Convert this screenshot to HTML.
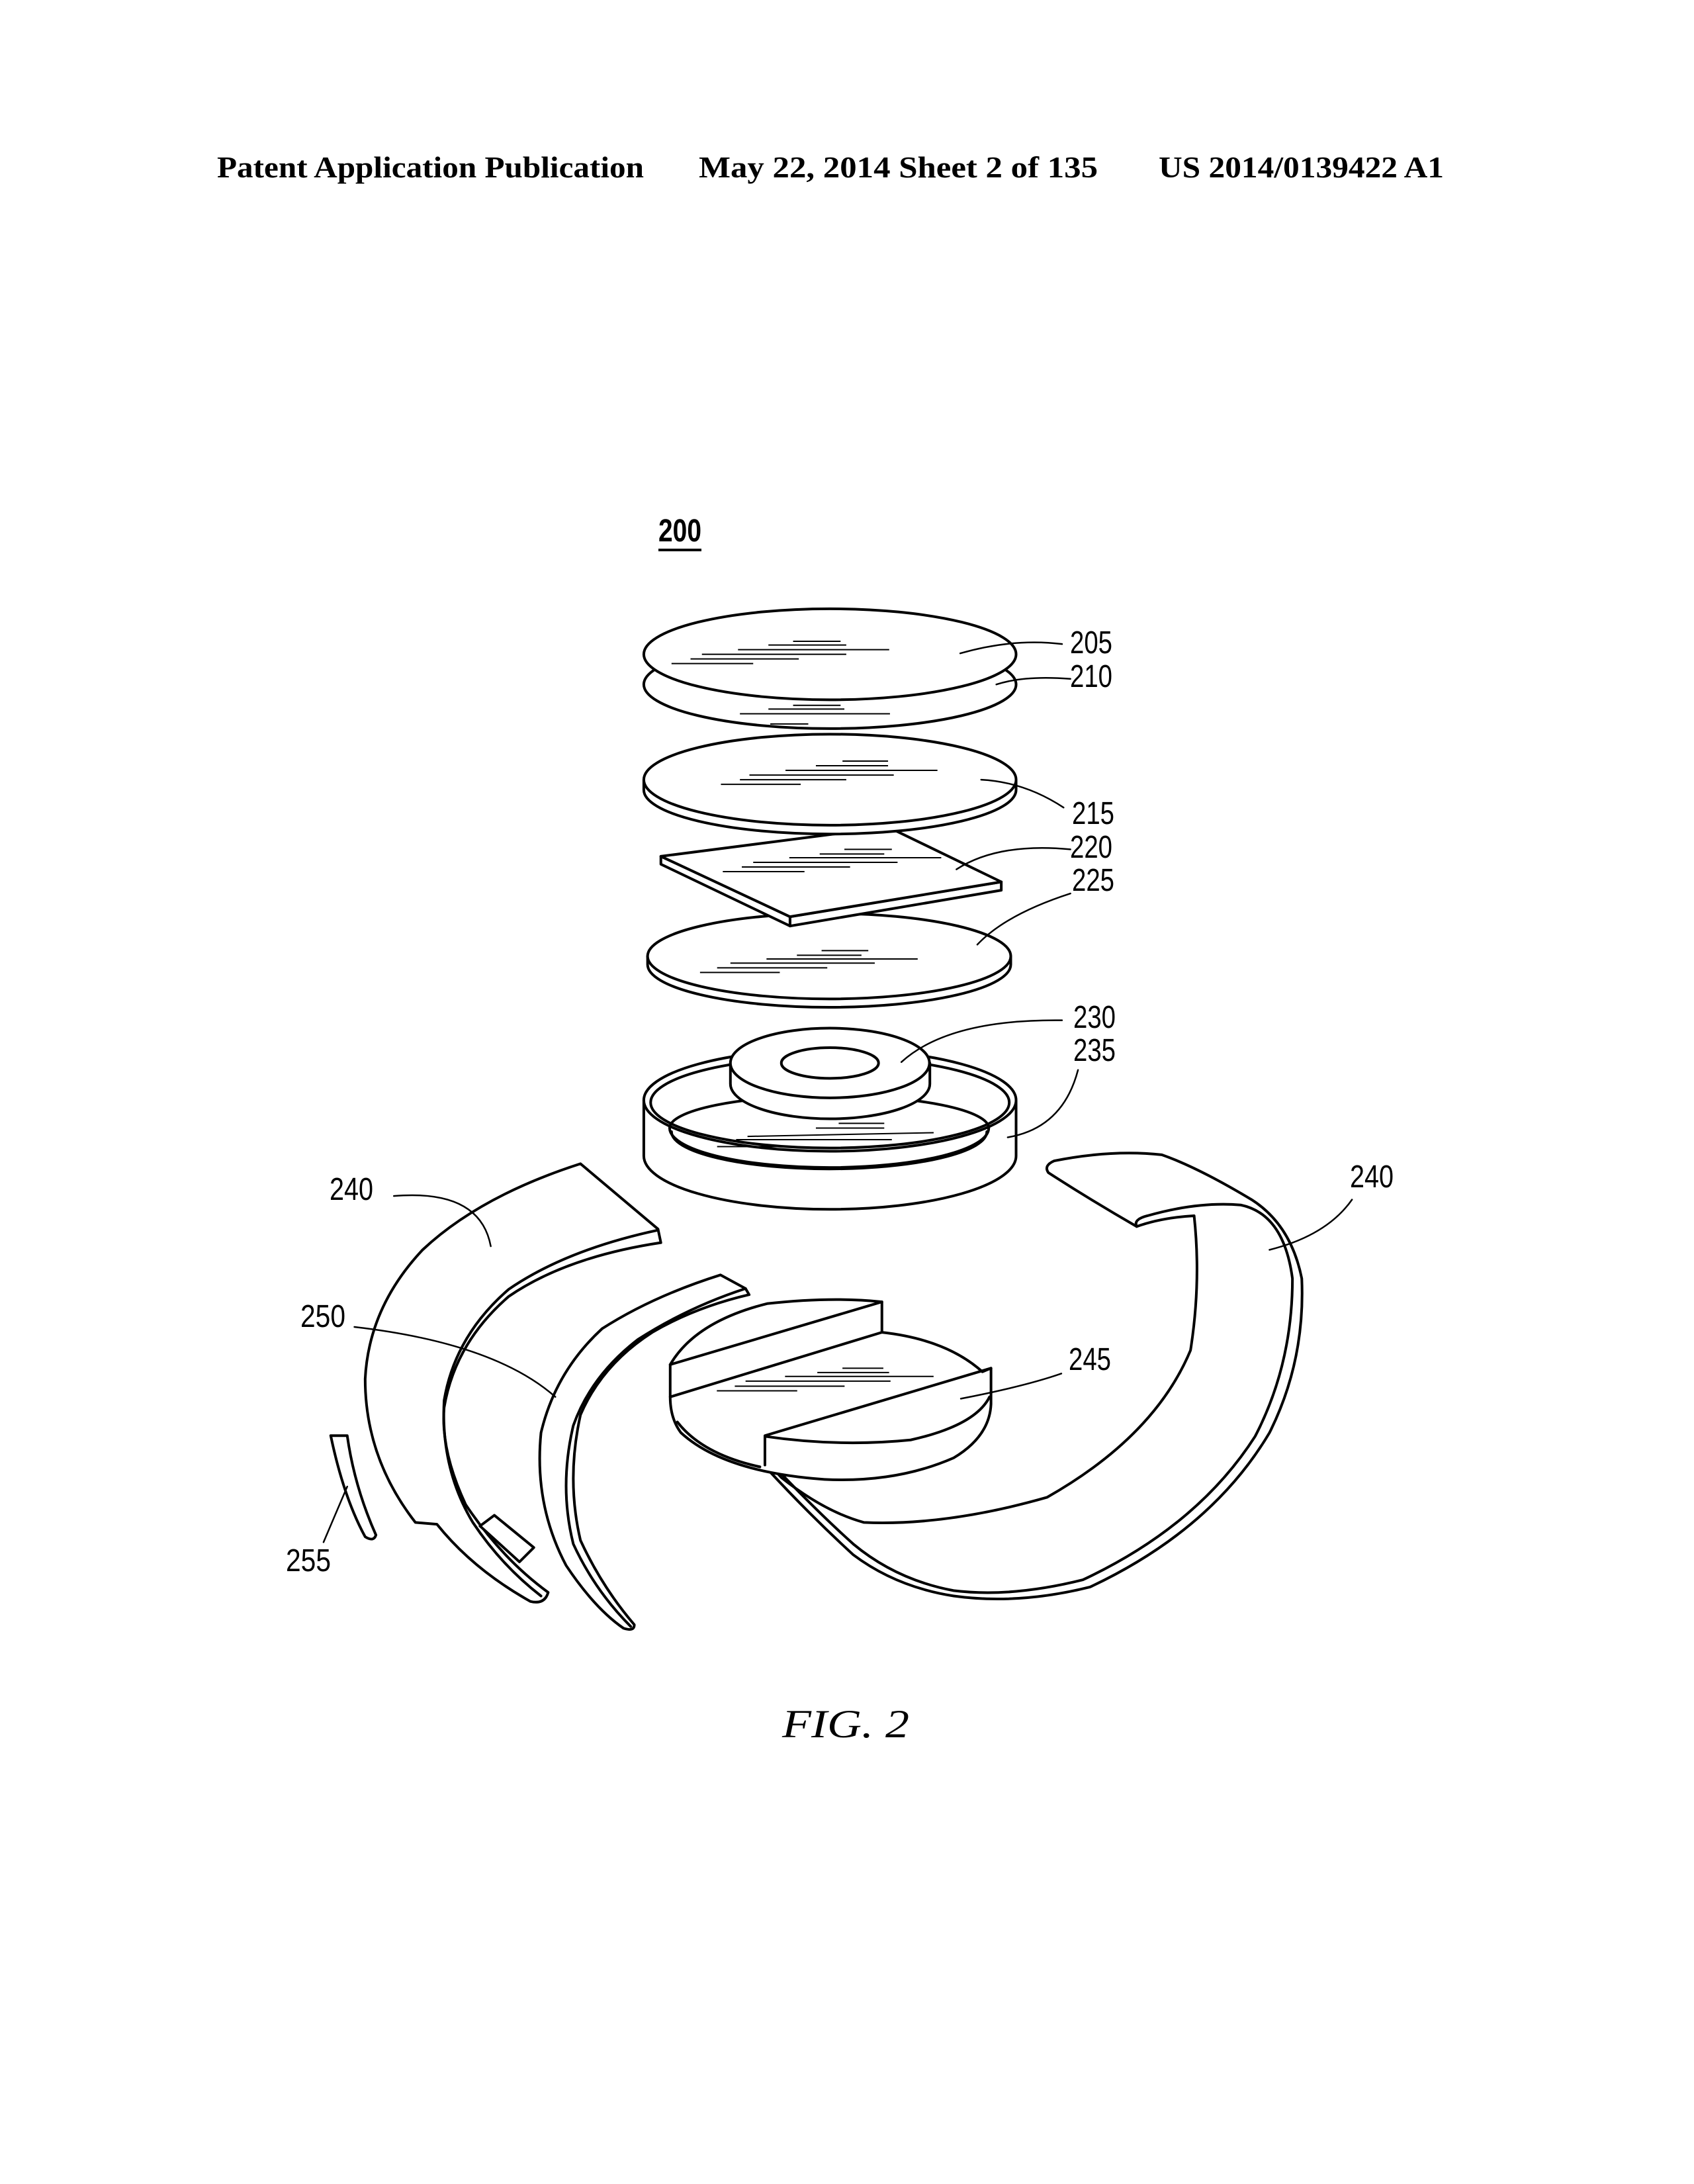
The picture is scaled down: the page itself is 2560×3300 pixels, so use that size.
<!DOCTYPE html>
<html><head><meta charset="utf-8"><style>
html,body{margin:0;padding:0;background:#fff}
svg{display:block}
.s{fill:none;stroke:#000;stroke-width:4;vector-effect:non-scaling-stroke;stroke-linejoin:round;stroke-linecap:round}
.w{fill:#fff;stroke:#000;stroke-width:4;vector-effect:non-scaling-stroke;stroke-linejoin:round}
.t{stroke:#000;stroke-width:2;vector-effect:non-scaling-stroke;fill:none}
.l{font-family:"Liberation Sans",sans-serif;font-size:48px;fill:#000}
</style></head><body>
<svg width="2560" height="3300" viewBox="0 0 2560 3300" xmlns="http://www.w3.org/2000/svg">
<rect width="2560" height="3300" fill="#fff"/>
<g font-family="Liberation Serif, serif" font-weight="bold" font-size="46" fill="#000">
<text x="328" y="268" textLength="645" lengthAdjust="spacingAndGlyphs">Patent Application Publication</text>
<text x="1056" y="268" textLength="603" lengthAdjust="spacingAndGlyphs">May 22, 2014  Sheet 2 of 135</text>
<text x="1751" y="268" textLength="431" lengthAdjust="spacingAndGlyphs">US 2014/0139422 A1</text>
</g>
<text x="995" y="818" class="l" textLength="65" lengthAdjust="spacingAndGlyphs" font-weight="bold">200</text>
<line x1="995" y1="831" x2="1060" y2="831" stroke="#000" stroke-width="4"/>

<g transform="translate(900,750) scale(0.5741,0.7018)">
 <path class="w" d="M127,1300 L127,1420 A490,115 0 0 0 1107,1420 L1107,1300 Z"/>
 <ellipse class="w" cx="617" cy="1300" rx="490" ry="110"/>
 <ellipse class="s" cx="617" cy="1305" rx="472" ry="98"/>
 <path class="s" d="M195,1360 A420,85 0 0 0 1035,1360"/>
 <path class="s" d="M200,1368 A415,80 0 0 0 1030,1368"/>
 <path class="s" d="M195,1360 A420,70 0 0 1 1035,1360"/>
 <line class="t" x1="320" y1="1400" x2="530" y2="1400"/><line class="t" x1="370" y1="1385" x2="780" y2="1385"/><line class="t" x1="400" y1="1378" x2="890" y2="1370"/><line class="t" x1="580" y1="1360" x2="760" y2="1360"/><line class="t" x1="640" y1="1350" x2="760" y2="1350"/>
 <path class="w" d="M355,1220 L355,1265 A262,75 0 0 0 880,1265 L880,1220 Z"/>
 <ellipse class="w" cx="617" cy="1220" rx="262" ry="75"/>
 <ellipse class="s" cx="617" cy="1220" rx="128" ry="33"/>
 <path class="w" d="M137,990 L137,1008 A478,92 0 0 0 1093,1008 L1093,990 Z"/>
 <ellipse class="w" cx="615" cy="990" rx="478" ry="92"/>
 <line class="t" x1="275" y1="1025" x2="485" y2="1025"/><line class="t" x1="320" y1="1015" x2="610" y2="1015"/><line class="t" x1="355" y1="1005" x2="735" y2="1005"/><line class="t" x1="450" y1="996" x2="848" y2="996"/><line class="t" x1="530" y1="988" x2="700" y2="988"/><line class="t" x1="595" y1="978" x2="718" y2="978"/>
 <polygon class="w" points="172,775 172,792 512,925 512,905"/>
 <polygon class="w" points="512,905 512,925 1068,848 1068,830"/>
 <polygon class="w" points="172,775 770,712 1068,830 512,905"/>
 <line class="t" x1="335" y1="808" x2="550" y2="808"/><line class="t" x1="385" y1="798" x2="670" y2="798"/><line class="t" x1="415" y1="788" x2="795" y2="788"/><line class="t" x1="510" y1="778" x2="910" y2="778"/><line class="t" x1="590" y1="770" x2="760" y2="770"/><line class="t" x1="655" y1="760" x2="780" y2="760"/>
 <path class="w" d="M127,610 L127,632 A490,95 0 0 0 1107,632 L1107,610 Z"/>
 <ellipse class="w" cx="617" cy="610" rx="490" ry="98"/>
 <line class="t" x1="330" y1="620" x2="540" y2="620"/><line class="t" x1="380" y1="610" x2="660" y2="610"/><line class="t" x1="405" y1="600" x2="785" y2="600"/><line class="t" x1="500" y1="590" x2="900" y2="590"/><line class="t" x1="580" y1="580" x2="770" y2="580"/><line class="t" x1="650" y1="570" x2="770" y2="570"/>
 <ellipse class="w" cx="617" cy="405" rx="490" ry="95"/>
 <line class="t" x1="460" y1="490" x2="560" y2="490"/><line class="t" x1="380" y1="468" x2="775" y2="468"/><line class="t" x1="455" y1="458" x2="655" y2="458"/><line class="t" x1="520" y1="450" x2="645" y2="450"/>
 <ellipse class="w" cx="617" cy="340" rx="490" ry="98"/>
 <line class="t" x1="200" y1="360" x2="415" y2="360"/><line class="t" x1="250" y1="350" x2="535" y2="350"/><line class="t" x1="280" y1="340" x2="660" y2="340"/><line class="t" x1="375" y1="330" x2="773" y2="330"/><line class="t" x1="455" y1="320" x2="660" y2="320"/><line class="t" x1="520" y1="312" x2="645" y2="312"/>
 <path class="s" style="stroke-width:2.5" d="M960,338 Q1100,305 1228,318"/>
 <path class="s" style="stroke-width:2.5" d="M1055,405 Q1130,385 1250,393"/>
 <path class="s" style="stroke-width:2.5" d="M1015,610 Q1130,615 1232,670"/>
 <path class="s" style="stroke-width:2.5" d="M950,803 Q1060,745 1250,760"/>
 <path class="s" style="stroke-width:2.5" d="M1005,965 Q1080,900 1250,855"/>
 <path class="s" style="stroke-width:2.5" d="M805,1218 Q930,1125 1228,1128"/>
 <path class="s" style="stroke-width:2.5" d="M1085,1380 Q1230,1360 1270,1235"/>
</g>

<g transform="translate(400,1650) scale(1.0846,0.542)">
 <path class="w" d="M440,200 Q300,290 220,440 Q145,600 140,800 Q140,1020 210,1200 L240,1205 Q290,1330 370,1420 Q390,1430 395,1395 Q330,1300 280,1150 Q245,1000 250,880 Q265,700 340,570 Q420,460 552,420 L548,382 Z"/>
 <path class="s" d="M548,385 Q420,440 340,550 Q265,680 250,860 Q245,1050 290,1200 Q330,1320 385,1405"/>
 <polygon class="w" points="300,1210 320,1180 375,1270 355,1310"/>
 <path class="w" d="M635,510 Q540,570 470,660 Q405,780 385,950 Q375,1150 420,1320 Q460,1440 500,1495 Q515,1505 515,1485 Q470,1380 440,1250 Q420,1080 440,900 Q470,760 540,670 Q600,600 675,565 L670,548 Z"/>
 <path class="s" d="M670,548 Q590,600 520,690 Q455,790 430,930 Q410,1100 430,1260 Q460,1390 510,1490"/>
 <path class="w" d="M92,958 L115,958 Q125,1100 155,1235 Q152,1255 140,1240 Q110,1130 92,958 Z"/>
 <path class="w" d="M1100,192 Q1180,160 1250,175 Q1300,210 1375,300 Q1430,370 1445,520 Q1450,750 1400,950 Q1320,1220 1150,1380 Q1050,1430 960,1405 Q880,1380 820,1290 Q760,1180 700,1050 L690,1035 Q700,1030 720,1075 Q780,1170 835,1200 Q950,1210 1090,1130 Q1240,960 1290,720 Q1305,530 1295,345 Q1250,350 1215,375 Q1150,300 1092,225 Q1085,205 1100,192 Z"/>
 <path class="s" d="M1215,375 Q1210,355 1230,345 Q1300,305 1360,315 Q1420,340 1432,520 Q1432,760 1380,960 Q1300,1210 1140,1360 Q1040,1410 960,1390 Q880,1360 820,1260 Q770,1170 712,1048"/>
 <path class="w" d="M565,760 Q600,640 700,590 Q790,570 860,585 L860,670 Q950,690 1000,780 L1012,770 L1012,870 Q1010,960 960,1020 Q880,1090 780,1080 Q640,1060 580,950 Q565,910 565,850 Z"/>
 <path class="s" d="M565,760 L860,585 M565,850 L860,670 M1012,770 L697,958 L697,1040 M697,960 Q800,990 900,970 Q990,930 1010,850 M575,920 Q610,1010 690,1045"/>
 <line class="t" x1="630" y1="833" x2="742" y2="833"/><line class="t" x1="655" y1="820" x2="808" y2="820"/><line class="t" x1="670" y1="806" x2="872" y2="806"/><line class="t" x1="725" y1="793" x2="932" y2="793"/><line class="t" x1="770" y1="782" x2="870" y2="782"/><line class="t" x1="805" y1="770" x2="862" y2="770"/>
 <path class="s" style="stroke-width:2.5" d="M180,290 Q300,270 315,430"/>
 <path class="s" style="stroke-width:2.5" d="M125,655 Q320,700 405,850"/>
 <path class="s" style="stroke-width:2.5" d="M82,1255 L115,1100"/>
 <path class="s" style="stroke-width:2.5" d="M970,855 Q1060,820 1110,785"/>
 <path class="s" style="stroke-width:2.5" d="M1400,440 Q1480,400 1515,300"/>
</g>

<g class="l">
<text x="1617" y="987" textLength="64" lengthAdjust="spacingAndGlyphs">205</text>
<text x="1617" y="1038" textLength="64" lengthAdjust="spacingAndGlyphs">210</text>
<text x="1620" y="1245" textLength="64" lengthAdjust="spacingAndGlyphs">215</text>
<text x="1617" y="1296" textLength="64" lengthAdjust="spacingAndGlyphs">220</text>
<text x="1620" y="1346" textLength="64" lengthAdjust="spacingAndGlyphs">225</text>
<text x="1622" y="1553" textLength="64" lengthAdjust="spacingAndGlyphs">230</text>
<text x="1622" y="1603" textLength="64" lengthAdjust="spacingAndGlyphs">235</text>
<text x="498" y="1813" textLength="66" lengthAdjust="spacingAndGlyphs">240</text>
<text x="454" y="2005" textLength="68" lengthAdjust="spacingAndGlyphs">250</text>
<text x="432" y="2374" textLength="68" lengthAdjust="spacingAndGlyphs">255</text>
<text x="1615" y="2070" textLength="64" lengthAdjust="spacingAndGlyphs">245</text>
<text x="2040" y="1794" textLength="66" lengthAdjust="spacingAndGlyphs">240</text>
</g>
<text x="1182" y="2625" font-family="Liberation Serif, serif" font-style="italic" font-size="60" textLength="192" lengthAdjust="spacingAndGlyphs">FIG.  2</text>
</svg>
</body></html>
